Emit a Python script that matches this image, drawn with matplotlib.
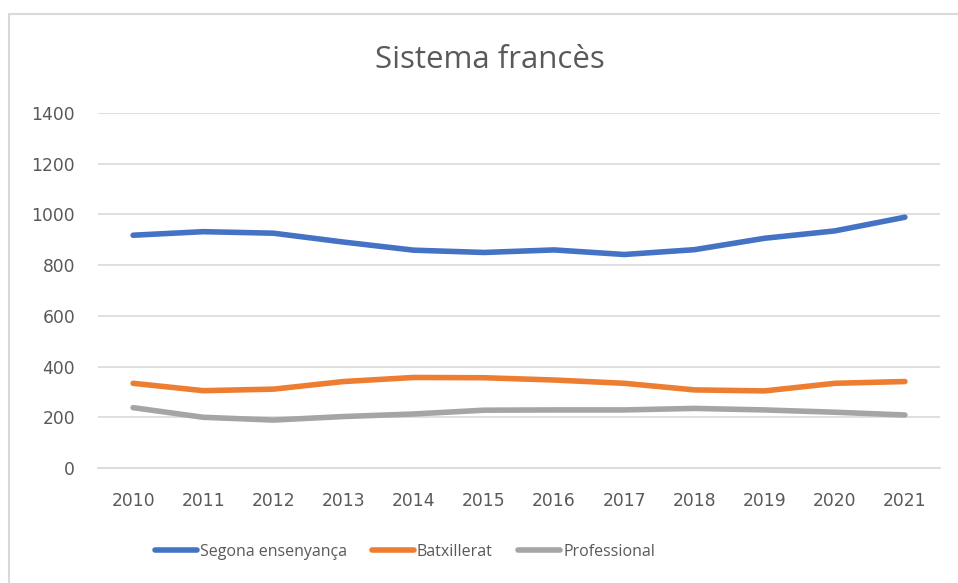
import matplotlib.pyplot as plt
from matplotlib.patches import Rectangle

years = ["2010", "2011", "2012", "2013", "2014", "2015",
         "2016", "2017", "2018", "2019", "2020", "2021"]
segona = [918, 932, 926, 891, 859, 850, 860, 842, 861, 906, 935, 989]
batxillerat = [334, 305, 311, 341, 357, 356, 347, 334, 308, 304, 334, 341]
professional = [238, 200, 189, 203, 213, 228, 229, 229, 235, 229, 220, 209]

series = [
    ("Segona ensenyança", segona, "#4472C4"),
    ("Batxillerat", batxillerat, "#ED7D31"),
    ("Professional", professional, "#A5A5A5"),
]

plt.rcParams['font.family'] = ['Open Sans', 'DejaVu Sans']
text_color = "#595959"
grid_color = "#D9D9D9"

fig = plt.figure(figsize=(9.58, 5.83), dpi=100)
# outer chart frame
fig.patches.append(Rectangle((9 / 958, -0.1), 1.2, 1.1 - 14 / 583, transform=fig.transFigure,
                             fill=False, edgecolor="#D9D9D9", linewidth=1.5))

ax = fig.add_axes([98 / 958, 1 - 468 / 583, 842 / 958, 355 / 583])
x = list(range(len(years)))
for name, vals, color in series:
    ax.plot(x, vals, color=color, linewidth=4, solid_capstyle='round',
            solid_joinstyle='round', label=name, zorder=3)

ax.set_xlim(-0.5, len(years) - 0.5)
ax.set_ylim(0, 1400)
ax.set_yticks(range(0, 1401, 200))
ax.set_xticks(x)
ax.set_xticklabels(years)
ax.yaxis.grid(True, color=grid_color, linewidth=1.2)
ax.set_axisbelow(True)
for s in ["top", "right", "left"]:
    ax.spines[s].set_visible(False)
ax.spines["bottom"].set_color(grid_color)
ax.spines["bottom"].set_linewidth(1.2)
ax.tick_params(length=0, colors=text_color)
ax.tick_params(axis='x', pad=17)
ax.tick_params(axis='y', pad=16.5)
for lbl in ax.get_xticklabels() + ax.get_yticklabels():
    lbl.set_fontfamily('DejaVu Sans')
    lbl.set_fontsize(12.3)

fig.text(490 / 958, 1 - 60 / 583, "Sistema francès", ha='center', va='center',
         fontsize=22.5, color=text_color)

leg = fig.legend(loc='center', bbox_to_anchor=(405 / 958, 1 - 552 / 583), ncol=3,
                 frameon=False, fontsize=11.5, handlelength=2.6, handletextpad=0.2,
                 columnspacing=1.6)
for t in leg.get_texts():
    t.set_color(text_color)

fig.savefig("out.png", dpi=100)
